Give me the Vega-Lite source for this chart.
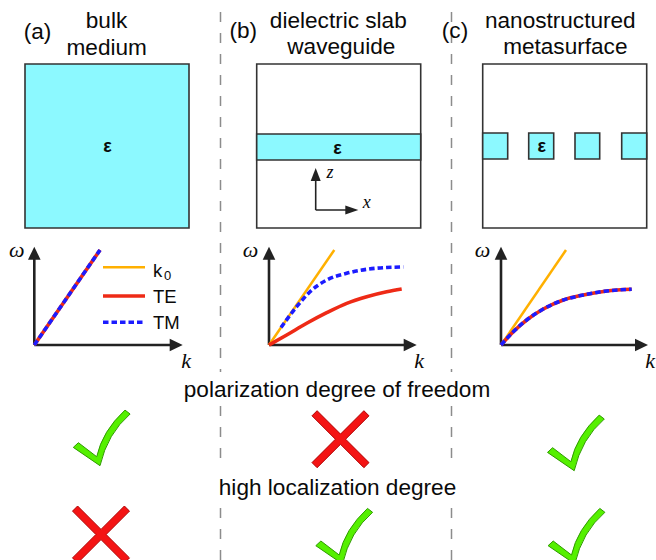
{
  "$schema": "https://vega.github.io/schema/vega-lite/v6.json",
  "width": 656,
  "height": 560,
  "padding": 0,
  "autosize": {"type": "none"},
  "background": "white",
  "config": {"view": {"stroke": null}, "text": {"font": "Liberation Sans"}},
  "datasets": {
    "separators": [
      {"x": 220.5, "y": 12, "y2": 372},
      {"x": 220.5, "y": 406, "y2": 463},
      {"x": 220.5, "y": 508, "y2": 560},
      {"x": 451.5, "y": 12, "y2": 372},
      {"x": 451.5, "y": 406, "y2": 463},
      {"x": 451.5, "y": 508, "y2": 560}
    ],
    "cells": [
      {"structure": "bulk", "material": "dielectric", "x": 25, "x2": 189, "y": 64, "y2": 228},
      {"structure": "slab", "material": "air", "x": 256.7, "x2": 420.7, "y": 64, "y2": 228},
      {"structure": "slab", "material": "dielectric", "x": 256.7, "x2": 420.7, "y": 134, "y2": 160},
      {"structure": "meta", "material": "air", "x": 482.7, "x2": 646.7, "y": 64, "y2": 228},
      {"structure": "meta", "material": "dielectric", "x": 482.7, "x2": 507.7, "y": 133, "y2": 159},
      {"structure": "meta", "material": "dielectric", "x": 528.7, "x2": 553.7, "y": 133, "y2": 159},
      {"structure": "meta", "material": "dielectric", "x": 575, "x2": 599.7, "y": 133, "y2": 159},
      {"structure": "meta", "material": "dielectric", "x": 621.7, "x2": 646.7, "y": 133, "y2": 159}
    ],
    "shafts": [
      {"kind": "axis", "x": 34.3, "y": 345, "x2": 34.3, "y2": 252},
      {"kind": "axis", "x": 34.3, "y": 345, "x2": 177, "y2": 345},
      {"kind": "axis", "x": 269, "y": 345, "x2": 269, "y2": 252},
      {"kind": "axis", "x": 269, "y": 345, "x2": 411, "y2": 345},
      {"kind": "axis", "x": 501, "y": 345, "x2": 501, "y2": 252},
      {"kind": "axis", "x": 501, "y": 345, "x2": 642, "y2": 345},
      {"kind": "frame", "x": 315.7, "y": 210, "x2": 315.7, "y2": 178},
      {"kind": "frame", "x": 315.7, "y": 210, "x2": 348, "y2": 210}
    ],
    "heads": [
      {"dir": "up", "x": 34.3, "y": 246.7},
      {"dir": "right", "x": 182.7, "y": 345},
      {"dir": "up", "x": 269, "y": 246.7},
      {"dir": "right", "x": 416.7, "y": 345},
      {"dir": "up", "x": 501, "y": 246.7},
      {"dir": "right", "x": 648, "y": 345},
      {"dir": "up-small", "x": 315.7, "y": 168},
      {"dir": "right-small", "x": 358.3, "y": 210}
    ],
    "curves": [
      {"panel": "a", "mode": "k0", "i": 0, "x": 34.3, "y": 345},
      {"panel": "a", "mode": "k0", "i": 1, "x": 100, "y": 250},
      {"panel": "a", "mode": "TE", "i": 0, "x": 34.3, "y": 345},
      {"panel": "a", "mode": "TE", "i": 1, "x": 100, "y": 250},
      {"panel": "a", "mode": "TM", "i": 0, "x": 34.3, "y": 345},
      {"panel": "a", "mode": "TM", "i": 1, "x": 100, "y": 250},
      {"panel": "key", "mode": "k0", "i": 0, "x": 103, "y": 267.3},
      {"panel": "key", "mode": "k0", "i": 1, "x": 145, "y": 267.3},
      {"panel": "key", "mode": "TE", "i": 0, "x": 103, "y": 296},
      {"panel": "key", "mode": "TE", "i": 1, "x": 145, "y": 296},
      {"panel": "key", "mode": "TM", "i": 0, "x": 103, "y": 322.3},
      {"panel": "key", "mode": "TM", "i": 1, "x": 145, "y": 322.3},
      {"panel": "b", "mode": "k0", "i": 0, "x": 269, "y": 345},
      {"panel": "b", "mode": "k0", "i": 1, "x": 334.3, "y": 250},
      {"panel": "b", "mode": "TE", "i": 0, "x": 269, "y": 345},
      {"panel": "b", "mode": "TE", "i": 1, "x": 286.7, "y": 335},
      {"panel": "b", "mode": "TE", "i": 2, "x": 306.7, "y": 323.3},
      {"panel": "b", "mode": "TE", "i": 3, "x": 326.7, "y": 312.7},
      {"panel": "b", "mode": "TE", "i": 4, "x": 346.7, "y": 303.3},
      {"panel": "b", "mode": "TE", "i": 5, "x": 366.7, "y": 296.7},
      {"panel": "b", "mode": "TE", "i": 6, "x": 386.7, "y": 291.7},
      {"panel": "b", "mode": "TE", "i": 7, "x": 401.7, "y": 289},
      {"panel": "b", "mode": "TM", "i": 0, "x": 281, "y": 327.5},
      {"panel": "b", "mode": "TM", "i": 1, "x": 296.7, "y": 306.7},
      {"panel": "b", "mode": "TM", "i": 2, "x": 310, "y": 291.7},
      {"panel": "b", "mode": "TM", "i": 3, "x": 326.7, "y": 280},
      {"panel": "b", "mode": "TM", "i": 4, "x": 346.7, "y": 273.3},
      {"panel": "b", "mode": "TM", "i": 5, "x": 366.7, "y": 269.3},
      {"panel": "b", "mode": "TM", "i": 6, "x": 386.7, "y": 267.5},
      {"panel": "b", "mode": "TM", "i": 7, "x": 403.3, "y": 267},
      {"panel": "c", "mode": "k0", "i": 0, "x": 501, "y": 345},
      {"panel": "c", "mode": "k0", "i": 1, "x": 566, "y": 250},
      {"panel": "c", "mode": "TE", "i": 0, "x": 501, "y": 345},
      {"panel": "c", "mode": "TE", "i": 1, "x": 513.3, "y": 331.7},
      {"panel": "c", "mode": "TE", "i": 2, "x": 526.7, "y": 320},
      {"panel": "c", "mode": "TE", "i": 3, "x": 543.3, "y": 309},
      {"panel": "c", "mode": "TE", "i": 4, "x": 563.3, "y": 300},
      {"panel": "c", "mode": "TE", "i": 5, "x": 583.3, "y": 295},
      {"panel": "c", "mode": "TE", "i": 6, "x": 606.7, "y": 291},
      {"panel": "c", "mode": "TE", "i": 7, "x": 631.7, "y": 289.3},
      {"panel": "c", "mode": "TM", "i": 0, "x": 501, "y": 345},
      {"panel": "c", "mode": "TM", "i": 1, "x": 513.3, "y": 331.7},
      {"panel": "c", "mode": "TM", "i": 2, "x": 526.7, "y": 320},
      {"panel": "c", "mode": "TM", "i": 3, "x": 543.3, "y": 309},
      {"panel": "c", "mode": "TM", "i": 4, "x": 563.3, "y": 300},
      {"panel": "c", "mode": "TM", "i": 5, "x": 583.3, "y": 295},
      {"panel": "c", "mode": "TM", "i": 6, "x": 606.7, "y": 291},
      {"panel": "c", "mode": "TM", "i": 7, "x": 631.7, "y": 289.3}
    ],
    "verdicts": [
      {"structure": "bulk", "property": "polarization", "ok": true, "x": 101.7, "y": 437.9},
      {"structure": "slab", "property": "polarization", "ok": false, "x": 340.5, "y": 439.2},
      {"structure": "meta", "property": "polarization", "ok": true, "x": 575.9, "y": 442.9},
      {"structure": "bulk", "property": "localization", "ok": false, "x": 101, "y": 534.5},
      {"structure": "slab", "property": "localization", "ok": true, "x": 344.2, "y": 536.2},
      {"structure": "meta", "property": "localization", "ok": true, "x": 576.5, "y": 536.2}
    ],
    "labels": [
      {"role": "title", "text": "bulk", "x": 106.5, "y": 28},
      {"role": "title", "text": "medium", "x": 106.7, "y": 54.5},
      {"role": "title", "text": "dielectric slab", "x": 338.3, "y": 27.5},
      {"role": "title", "text": "waveguide", "x": 341.3, "y": 54},
      {"role": "title", "text": "nanostructured", "x": 560.3, "y": 27.5},
      {"role": "title", "text": "metasurface", "x": 565.3, "y": 54},
      {"role": "title", "text": "(a)", "x": 37.5, "y": 39},
      {"role": "title", "text": "(b)", "x": 243.3, "y": 38},
      {"role": "title", "text": "(c)", "x": 455, "y": 37.5},
      {"role": "title", "text": "polarization degree of freedom", "x": 337, "y": 396.5},
      {"role": "title", "text": "high localization degree", "x": 337.5, "y": 495},
      {"role": "eps", "text": "ε", "x": 107.5, "y": 152},
      {"role": "eps", "text": "ε", "x": 337.5, "y": 153.5},
      {"role": "eps", "text": "ε", "x": 541.7, "y": 152},
      {"role": "key", "text": "k", "x": 153, "y": 276.7},
      {"role": "sub", "text": "0", "x": 164, "y": 280},
      {"role": "key", "text": "TE", "x": 153, "y": 303.3},
      {"role": "key", "text": "TM", "x": 153, "y": 329},
      {"role": "axis", "text": "ω", "x": 16.7, "y": 256.7},
      {"role": "axis", "text": "ω", "x": 250.5, "y": 256.7},
      {"role": "axis", "text": "ω", "x": 482.5, "y": 256.7},
      {"role": "axis", "text": "k", "x": 186, "y": 368.3},
      {"role": "axis", "text": "k", "x": 419, "y": 368.3},
      {"role": "axis", "text": "k", "x": 650, "y": 368.3},
      {"role": "coord", "text": "z", "x": 330, "y": 178},
      {"role": "coord", "text": "x", "x": 366.7, "y": 208}
    ]
  },
  "encoding": {
    "x": {"field": "x", "type": "quantitative", "scale": {"domain": [0, 656], "nice": false, "zero": false}, "axis": null},
    "y": {"field": "y", "type": "quantitative", "scale": {"domain": [0, 560], "nice": false, "zero": false, "reverse": true}, "axis": null}
  },
  "layer": [
    {
      "data": {"name": "separators"},
      "mark": {"type": "rule", "stroke": "#8c8c8c", "strokeWidth": 1.5, "strokeDash": [10, 11]},
      "encoding": {"y2": {"field": "y2"}}
    },
    {
      "data": {"name": "cells"},
      "mark": {"type": "rect", "stroke": "#333333", "strokeWidth": 1.6},
      "encoding": {
        "x2": {"field": "x2"},
        "y2": {"field": "y2"},
        "fill": {"field": "material", "type": "nominal", "scale": {"domain": ["air", "dielectric"], "range": ["#ffffff", "#8cf9ff"]}, "legend": null}
      }
    },
    {
      "data": {"name": "shafts"},
      "mark": {"type": "rule", "stroke": "#222222"},
      "encoding": {
        "x2": {"field": "x2"},
        "y2": {"field": "y2"},
        "strokeWidth": {"field": "kind", "type": "nominal", "scale": {"domain": ["axis", "frame"], "range": [2.6, 1.6]}, "legend": null}
      }
    },
    {
      "data": {"name": "heads"},
      "mark": {"type": "point", "filled": true, "fill": "#222222", "stroke": null, "opacity": 1, "size": 4},
      "encoding": {
        "shape": {"field": "dir", "type": "nominal", "legend": null,
          "scale": {"domain": ["up", "right", "up-small", "right-small"],
            "range": ["M0,0L6.3,13L-6.3,13Z", "M0,0L-13,6.3L-13,-6.3Z", "M0,0L5,13L-5,13Z", "M0,0L-13,4.5L-13,-4.5Z"]}}
      }
    },
    {
      "data": {"name": "curves"},
      "transform": [{"filter": "datum.mode === 'k0'"}],
      "mark": {"type": "line", "strokeWidth": 2.5, "interpolate": "monotone"},
      "encoding": {
        "detail": {"field": "panel"},
        "order": {"field": "i", "type": "quantitative"},
        "stroke": {"field": "mode", "type": "nominal", "scale": {"domain": ["k0", "TE", "TM"], "range": ["#ffb000", "#ee2a16", "#1c1cff"]}, "legend": null}
      }
    },
    {
      "data": {"name": "curves"},
      "transform": [{"filter": "datum.mode === 'TE'"}],
      "mark": {"type": "line", "strokeWidth": 3.6, "interpolate": "monotone"},
      "encoding": {
        "detail": {"field": "panel"},
        "order": {"field": "i", "type": "quantitative"},
        "stroke": {"field": "mode", "type": "nominal", "legend": null}
      }
    },
    {
      "data": {"name": "curves"},
      "transform": [{"filter": "datum.mode === 'TM'"}],
      "mark": {"type": "line", "strokeWidth": 3.6, "strokeDash": [5.5, 3], "interpolate": "monotone"},
      "encoding": {
        "detail": {"field": "panel"},
        "order": {"field": "i", "type": "quantitative"},
        "stroke": {"field": "mode", "type": "nominal", "legend": null}
      }
    },
    {
      "data": {"name": "verdicts"},
      "transform": [{"filter": "datum.ok"}],
      "mark": {"type": "point", "filled": true, "fill": "#55f000", "stroke": "#2f9a00", "strokeWidth": 1, "opacity": 1, "size": 4,
        "shape": "M-23.3,4.8L-28.4,9.5L-1.7,27.8Q5.7,-4.3 28.4,-23.9L23.3,-27.8Q0.6,-6.8 -5,18.8Z"}
    },
    {
      "data": {"name": "verdicts"},
      "transform": [{"filter": "!datum.ok"}],
      "mark": {"type": "point", "filled": true, "fill": "#f41414", "stroke": "#b00000", "strokeWidth": 1, "opacity": 1, "size": 4,
        "shape": "M-23.4,-28.5L0,-5.1L23.4,-28.5L28.5,-23.4L5.1,0L28.5,23.4L23.4,28.5L0,5.1L-23.4,28.5L-28.5,23.4L-5.1,0L-28.5,-23.4Z"}
    },
    {
      "data": {"name": "labels"},
      "transform": [{"filter": "datum.role === 'title'"}],
      "mark": {"type": "text", "font": "Liberation Sans", "fontSize": 22.6, "align": "center", "baseline": "alphabetic", "color": "#0a0a0a"},
      "encoding": {"text": {"field": "text"}}
    },
    {
      "data": {"name": "labels"},
      "transform": [{"filter": "datum.role === 'eps'"}],
      "mark": {"type": "text", "font": "Liberation Sans", "fontSize": 18, "fontWeight": "bold", "align": "center", "baseline": "alphabetic", "color": "#0a0a0a"},
      "encoding": {"text": {"field": "text"}}
    },
    {
      "data": {"name": "labels"},
      "transform": [{"filter": "datum.role === 'key'"}],
      "mark": {"type": "text", "font": "Liberation Sans", "fontSize": 18.5, "align": "left", "baseline": "alphabetic", "color": "#0a0a0a"},
      "encoding": {"text": {"field": "text"}}
    },
    {
      "data": {"name": "labels"},
      "transform": [{"filter": "datum.role === 'sub'"}],
      "mark": {"type": "text", "font": "Liberation Sans", "fontSize": 13, "align": "left", "baseline": "alphabetic", "color": "#0a0a0a"},
      "encoding": {"text": {"field": "text"}}
    },
    {
      "data": {"name": "labels"},
      "transform": [{"filter": "datum.role === 'axis'"}],
      "mark": {"type": "text", "font": "Liberation Serif", "fontSize": 22, "fontStyle": "italic", "align": "center", "baseline": "alphabetic", "color": "#0a0a0a"},
      "encoding": {"text": {"field": "text"}}
    },
    {
      "data": {"name": "labels"},
      "transform": [{"filter": "datum.role === 'coord'"}],
      "mark": {"type": "text", "font": "Liberation Serif", "fontSize": 18, "fontStyle": "italic", "align": "center", "baseline": "alphabetic", "color": "#0a0a0a"},
      "encoding": {"text": {"field": "text"}}
    }
  ]
}
